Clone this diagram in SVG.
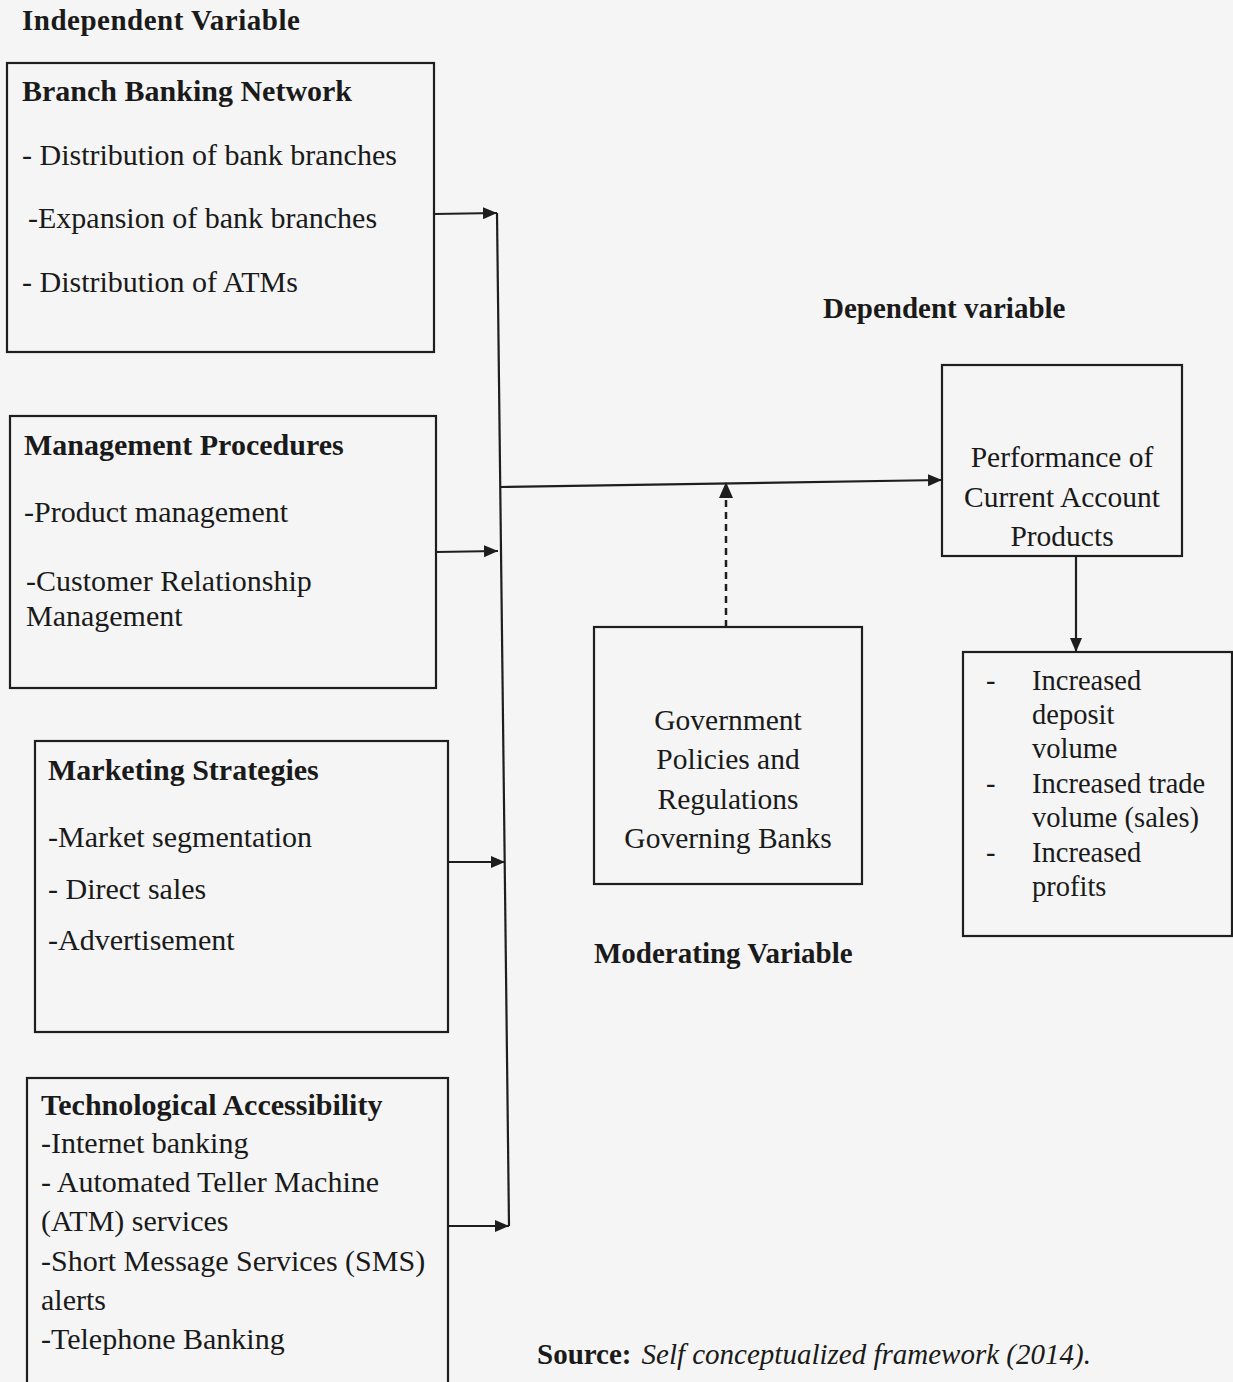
<svg xmlns="http://www.w3.org/2000/svg" width="1233" height="1382" viewBox="0 0 1233 1382">
<defs>
<style>
.bg{fill:#f5f5f5}
.box{fill:none;stroke:#1e1e1e;stroke-width:2.2}
.ln{fill:none;stroke:#1e1e1e;stroke-width:2.2}
.dash{fill:none;stroke:#1e1e1e;stroke-width:2.5;stroke-dasharray:7 5}
.t{font-family:"Liberation Serif",serif;font-size:30px;fill:#1a1a1a}
.m{font-size:29.5px}
.o{font-size:28.5px}
.b{font-family:"Liberation Serif",serif;font-size:30px;font-weight:bold;fill:#1a1a1a}
.hd{font-size:29px}
.h{font-family:"Liberation Serif",serif;font-size:29px;font-weight:bold;fill:#1a1a1a;letter-spacing:0.5px}
.c{text-anchor:middle}
.i{font-style:italic;font-weight:normal}
</style>
<marker id="ah" viewBox="0 0 14 12" refX="14" refY="6" markerWidth="14" markerHeight="12" markerUnits="userSpaceOnUse" orient="auto">
<path d="M0,0 L14,6 L0,12 Z" fill="#1e1e1e"/>
</marker>
</defs>
<rect class="bg" x="0" y="0" width="1233" height="1382"/>

<text class="h" x="22" y="30">Independent Variable</text>
<text class="b hd" x="823" y="318">Dependent variable</text>
<text class="b hd" x="594" y="963">Moderating Variable</text>

<g id="branch">
<rect class="box" x="7" y="63" width="427" height="289"/>
<text class="b" x="22" y="101">Branch Banking Network</text>
<text class="t" x="22" y="165">- Distribution of bank branches</text>
<text class="t" x="28" y="228">-Expansion of bank branches</text>
<text class="t" x="22" y="292">- Distribution of ATMs</text>
</g>

<g id="management">
<rect class="box" x="10" y="416" width="426" height="272"/>
<text class="b" x="24" y="455">Management Procedures</text>
<text class="t" x="24" y="522">-Product management</text>
<text class="t" x="26" y="591">-Customer Relationship</text>
<text class="t" x="26" y="626">Management</text>
</g>

<g id="marketing">
<rect class="box" x="35" y="741" width="413" height="291"/>
<text class="b" x="48" y="780">Marketing Strategies</text>
<text class="t" x="48" y="847">-Market segmentation</text>
<text class="t" x="48" y="899">- Direct sales</text>
<text class="t" x="48" y="950">-Advertisement</text>
</g>

<g id="technology">
<rect class="box" x="27" y="1078" width="421" height="320"/>
<text class="b" x="41" y="1115">Technological Accessibility</text>
<text class="t" x="41" y="1153">-Internet banking</text>
<text class="t" x="41" y="1192">- Automated Teller Machine</text>
<text class="t" x="41" y="1231">(ATM) services</text>
<text class="t" x="41" y="1271">-Short Message Services (SMS)</text>
<text class="t" x="41" y="1310">alerts</text>
<text class="t" x="41" y="1349">-Telephone Banking</text>
</g>

<g id="government">
<rect class="box" x="594" y="627" width="268" height="257"/>
<text class="t m c" x="728" y="730">Government</text>
<text class="t m c" x="728" y="769">Policies and</text>
<text class="t m c" x="728" y="809">Regulations</text>
<text class="t m c" x="728" y="848">Governing Banks</text>
</g>

<g id="performance">
<rect class="box" x="942" y="365" width="240" height="191"/>
<text class="t m c" x="1062" y="467">Performance of</text>
<text class="t m c" x="1062" y="507">Current Account</text>
<text class="t m c" x="1062" y="546">Products</text>
</g>

<g id="outcomes">
<rect class="box" x="963" y="652" width="269" height="284"/>
<text class="t o" x="986" y="690">-</text>
<text class="t o" x="1032" y="690">Increased</text>
<text class="t o" x="1032" y="724">deposit</text>
<text class="t o" x="1032" y="758">volume</text>
<text class="t o" x="986" y="793">-</text>
<text class="t o" x="1032" y="793">Increased trade</text>
<text class="t o" x="1032" y="827">volume (sales)</text>
<text class="t o" x="986" y="862">-</text>
<text class="t o" x="1032" y="862">Increased</text>
<text class="t o" x="1032" y="896">profits</text>
</g>

<g id="connectors">
<line class="ln" x1="497" y1="213" x2="509" y2="1226"/>
<line class="ln" x1="434" y1="214" x2="497" y2="213" marker-end="url(#ah)"/>
<line class="ln" x1="436" y1="552" x2="498" y2="551" marker-end="url(#ah)"/>
<line class="ln" x1="448" y1="862" x2="505" y2="862" marker-end="url(#ah)"/>
<line class="ln" x1="448" y1="1226" x2="509" y2="1226" marker-end="url(#ah)"/>
<line class="ln" x1="500" y1="487" x2="942" y2="480" marker-end="url(#ah)"/>
<line class="dash" x1="726" y1="627" x2="726" y2="497"/>
<path d="M719,498 L726,482 L733,498 Z" fill="#1e1e1e"/>
<line class="ln" x1="1076" y1="556" x2="1076" y2="652" marker-end="url(#ah)"/>
</g>

<text class="b hd" x="537" y="1364">Source:<tspan class="i" dx="10">Self conceptualized framework (2014).</tspan></text>
</svg>
